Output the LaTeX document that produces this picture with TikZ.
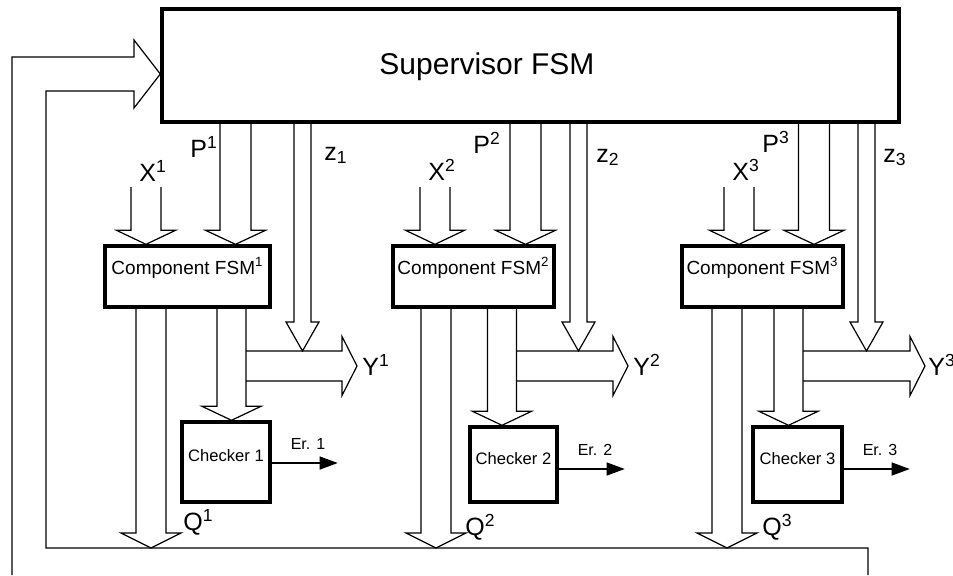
\documentclass[tikz,border=0pt]{standalone}
\usepackage{fontspec}
\setmainfont{Liberation Sans}
\usetikzlibrary{arrows.meta,calc,fit}

\tikzset{
    block/.style={draw, line width=1.7pt, inner sep=0pt},
    flow/.style={line width=0.6pt, line join=miter},
    lbl/.style={inner sep=0pt, anchor=base west, font=\fontsize{12.5}{14}\selectfont},
    errlbl/.style={inner sep=0pt, font=\fontsize{8}{9}\selectfont},
}

% hollow arrow downwards: tail anchor, tip, half width, wing, head length
\newcommand{\blockdown}[5]{%
    \draw[flow] ($(#2|-#1)+(-#3,0)$) -- ($(#2)+(-#3,-#5)$) -- ($(#2)+({-#3-#4},-#5)$)
        -- (#2) -- ($(#2)+({#3+#4},-#5)$) -- ($(#2)+(#3,-#5)$) -- ($(#2|-#1)+(#3,0)$);}
% hollow arrow to the right: tail anchor, tip, half width, wing, head length
\newcommand{\blockright}[5]{%
    \draw[flow] ($(#2-|#1)+(0,-#3)$) -- ($(#2)+(-#5,-#3)$) -- ($(#2)+(-#5,{-#3-#4})$)
        -- (#2) -- ($(#2)+(-#5,{#3+#4})$) -- ($(#2)+(-#5,#3)$) -- ($(#2-|#1)+(0,#3)$);}

\begin{document}
\begin{tikzpicture}[x=0.5pt, y=-0.5pt]
    \useasboundingbox (0,0) rectangle (953,575);

    % Supervisor
    \node[block, fit={(162,9) (899,122)}] (sup) {};
    \node[font=\fontsize{15}{18}\selectfont] (suptxt) at (487,67) {Supervisor FSM};

    % Component machines and their checkers
    \foreach \i/\xa/\xb/\ca/\cb/\cy in {1/105/270/182/270/422, 2/393/554/470/557/427, 3/682/843/753/842/427} {
        \node[block, fit={(\xa,246) (\xb,307)}, font=\fontsize{9.5}{11}\selectfont] (fsm\i) {Component FSM\textsuperscript{\i}};
        \node[block, fit={(\ca,\cy) (\cb,502)}, font=\fontsize{8.3}{10}\selectfont] (chk\i) {Checker \i};
    }

    % Feedback of Q to the supervisor
    \coordinate (fbl) at (46,548);
    \coordinate (fbtip) at (sup.west |- 0,74);
    \draw[flow] (12,575) -- (12,57) -- (134,57) -- (134,40) -- (fbtip) -- (134,108) -- (134,91)
        -- (46,91) -- (fbl) -- (868,548) -- (868,575);

    % Vector arrows of each group
    \foreach \i/\xx/\xp/\xz/\xq/\xc/\xy/\ey in {1/146/235.5/302.5/151/231.5/357/463, 2/435/525.5/578.5/436/502/628/469, 3/739/814/866.5/727/788.5/925/469} {
        \coordinate (xtail\i) at (\xx,187);
        \coordinate (xtip\i) at (fsm\i.north -| \xx,0);
        \coordinate (ptip\i) at (fsm\i.north -| \xp,0);
        \coordinate (ztip\i) at (\xz,351);
        \coordinate (qtip\i) at (fbl -| \xq,0);
        \coordinate (ctip\i) at (chk\i.north -| \xc,0);
        \coordinate (ytail\i) at ({\xc+14.5},366);
        \coordinate (ytip\i) at (\xy,366);
        \blockdown{xtail\i}{xtip\i}{15}{14.5}{14}
        \blockdown{sup.south}{ptip\i}{15.5}{14.5}{14}
        \blockdown{sup.south}{ztip\i}{8.5}{8}{29}
        \blockdown{fsm\i.south}{qtip\i}{15}{15}{15}
        \blockdown{fsm\i.south}{ctip\i}{14.5}{15}{14}
        \blockright{ytail\i}{ytip\i}{15}{14.5}{15}
        \draw[flow, -{Triangle[length=9pt,width=6.5pt]}] (chk\i.east |- 0,\ey) -- ++(66,0)
            node[errlbl, above=6.5pt, pos=0.55] {Er. \i};
    }

    % Vector labels
    \foreach \i/\pX/\pP/\pz/\pQ/\pY in {1/{139,181}/{190,157}/{324,160}/{183,530}/{362,375},
            2/{428,180}/{473,153}/{596,162}/{465,535}/{633,375},
            3/{732,180}/{762,152}/{883,162}/{762,535}/{928,375}} {
        \node[lbl] (xl\i) at (\pX) {X\textsuperscript{\i}};
        \node[lbl] (pl\i) at (\pP) {P\textsuperscript{\i}};
        \node[lbl] (zl\i) at (\pz) {z\textsubscript{\i}};
        \node[lbl] (ql\i) at (\pQ) {Q\textsuperscript{\i}};
        \node[lbl] (yl\i) at (\pY) {Y\textsuperscript{\i}};
    }
\end{tikzpicture}
\end{document}
